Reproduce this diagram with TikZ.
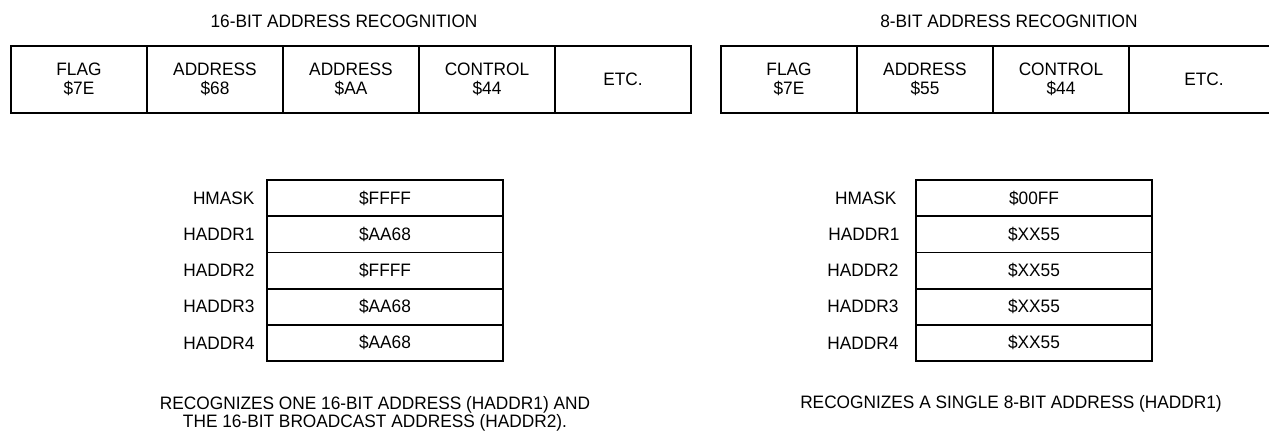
\documentclass[tikz,border=0pt]{standalone}
\usepackage{fontspec}
\setmainfont{Liberation Sans}[FakeStretch=0.96]
\usepackage{tikz}
\usetikzlibrary{positioning}

\begin{document}
\begin{tikzpicture}[x=1pt, y=-1pt,
    field/.style={draw, line width=1.8pt, minimum width=#1, minimum height=67pt,
                  inner sep=0pt, outer sep=0pt, align=center,
                  font=\fontsize{18}{19}\selectfont},
    field/.default=136pt,
    reg/.style={draw, line width=1.8pt, minimum width=236pt, minimum height=36.2pt,
                inner sep=0pt, outer sep=0pt, font=\fontsize{18}{18}\selectfont},
    regname/.style={font=\fontsize{18}{18}\selectfont},
    heading/.style={font=\fontsize{18}{18}\selectfont},
    note/.style={align=center, font=\fontsize{18}{18}\selectfont},
]
    \clip (0, 0) rectangle (1269, 434);

    % === 16-bit frame ===
    \node[heading] (t16) at (344, 21) {16-BIT ADDRESS RECOGNITION};
    \node[field, anchor=north west] (flagA) at (11, 46) {FLAG\\\$7E};
    \node[field, right=0pt of flagA] (addrA) {ADDRESS\\\$68};
    \node[field, right=0pt of addrA] (addrB) {ADDRESS\\\$AA};
    \node[field, right=0pt of addrB] (ctrlA) {CONTROL\\\$44};
    \node[field, right=0pt of ctrlA] (etcA) {ETC.};

    % === 8-bit frame ===
    \node[heading] (t8) at (1009, 21) {8-BIT ADDRESS RECOGNITION};
    \node[field, anchor=north west] (flagB) at (721, 46) {FLAG\\\$7E};
    \node[field, right=0pt of flagB] (addrC) {ADDRESS\\\$55};
    \node[field, right=0pt of addrC] (ctrlB) {CONTROL\\\$44};
    \node[field=150pt, right=0pt of ctrlB] (etcB) {ETC.};

    % === 16-bit registers ===
    \node[reg, anchor=north west] (maskA) at (267, 180) {\$FFFF};
    \node[reg, below=0pt of maskA] (ha1) {\$AA68};
    \node[reg, below=0pt of ha1] (ha2) {\$FFFF};
    \node[reg, below=0pt of ha2] (ha3) {\$AA68};
    \node[reg, below=0pt of ha3] (ha4) {\$AA68};
    \node[regname, left=9pt of maskA] {HMASK};
    \node[regname, left=9pt of ha1] {HADDR1};
    \node[regname, left=9pt of ha2] {HADDR2};
    \node[regname, left=9pt of ha3] {HADDR3};
    \node[regname, left=9pt of ha4] {HADDR4};

    % === 8-bit registers ===
    \node[reg, anchor=north west] (maskB) at (916, 180) {\$00FF};
    \node[reg, below=0pt of maskB] (hb1) {\$XX55};
    \node[reg, below=0pt of hb1] (hb2) {\$XX55};
    \node[reg, below=0pt of hb2] (hb3) {\$XX55};
    \node[reg, below=0pt of hb3] (hb4) {\$XX55};
    \node[regname, left=16pt of maskB] {HMASK};
    \node[regname, left=13pt of hb1] {HADDR1};
    \node[regname, left=14pt of hb2] {HADDR2};
    \node[regname, left=14pt of hb3] {HADDR3};
    \node[regname, left=14pt of hb4] {HADDR4};

    % captions
    \node[note] (c16) at (375, 414) {RECOGNIZES ONE 16-BIT ADDRESS (HADDR1) AND\\THE 16-BIT BROADCAST ADDRESS (HADDR2).};
    \node[note] (c8) at (1011, 404) {RECOGNIZES A SINGLE 8-BIT ADDRESS (HADDR1)};
\end{tikzpicture}
\end{document}
